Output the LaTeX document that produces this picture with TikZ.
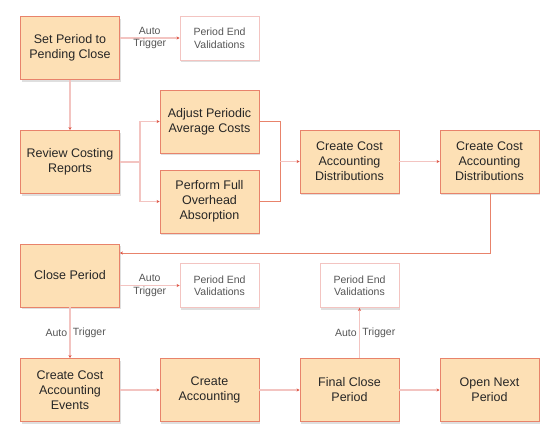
\documentclass[tikz,border=0pt]{standalone}
\usepackage{fontspec}
\setmainfont{Liberation Sans}
\usepackage{tikz}
\usetikzlibrary{positioning, arrows.meta, shadows}
\definecolor{durazno}{RGB}{253, 224, 181}
\definecolor{salmon}{RGB}{232, 131, 107}
\definecolor{rosado}{RGB}{243, 196, 193}
\definecolor{rojizo}{RGB}{222, 86, 70}
\definecolor{tinta}{RGB}{38, 38, 38}
\definecolor{gris}{RGB}{85, 85, 85}
\tikzset{
    paso/.style={draw=salmon, fill=durazno, text=tinta, align=center, line width=0.9pt, minimum width=99pt, minimum height=63pt, font=\fontsize{12.5}{15}\selectfont, drop shadow={shadow xshift=1pt, shadow yshift=-2pt, opacity=0.25, fill=gray}},
    valid/.style={draw=rosado, fill=white, text=gris, align=center, line width=0.9pt, minimum width=79pt, minimum height=44pt, font=\fontsize{10.5}{12.5}\selectfont, drop shadow={shadow xshift=1pt, shadow yshift=-2pt, opacity=0.25, fill=gray}},
    conn/.style={draw=rosado, line width=1.8pt, -{Stealth[length=3pt, width=3pt, color=rojizo]}},
    fino/.style={draw=salmon, line width=0.8pt},
    etiq/.style={text=gris, font=\fontsize{10.5}{12.5}\selectfont, align=center, inner sep=2pt},
}
\begin{document}
\begin{tikzpicture}[x=1pt, y=-1pt]
    \useasboundingbox (0,0) rectangle (560,440);

    \node [paso] (setp) at (70,48) {Set Period to\\Pending Close};
    \node [valid] (pev1) at (219.5,38) {Period End\\Validations};
    \node [paso] (review) at (70,162) {Review Costing\\Reports};
    \node [paso] (adjust) at (209.5,121.5) {Adjust Periodic\\Average Costs};
    \node [paso] (perform) at (209.5,201.5) {Perform Full\\Overhead\\Absorption};
    \node [paso] (ccad1) at (349.5,161.5) {Create Cost\\Accounting\\Distributions};
    \node [paso] (ccad2) at (489.5,161.5) {Create Cost\\Accounting\\Distributions};
    \node [paso] (close) at (70,275.5) {Close Period};
    \node [valid] (pev2) at (219.5,285.5) {Period End\\Validations};
    \node [valid] (pev3) at (359.5,285.5) {Period End\\Validations};
    \node [paso] (ccae) at (70,390) {Create Cost\\Accounting\\Events};
    \node [paso] (creacc) at (209.5,390) {Create\\Accounting};
    \node [paso] (final) at (349.5,390) {Final Close\\Period};
    \node [paso] (open) at (489.5,390) {Open Next\\Period};

    \coordinate (split) at (140,162);
    \coordinate (merge) at (280,161.5);
    \coordinate (ret) at (490,253);

    \draw[conn] (setp.east |- pev1) -- (pev1.west) node[etiq, midway] {Auto\\Trigger};
    \draw[conn] (setp) -- (review);

    \draw[draw=rosado, line width=1.8pt] (review.east) -- (split);
    \draw[conn] (split) |- (adjust.west);
    \draw[conn] (split) |- (perform.west);

    \draw[fino] (adjust.east) -| (merge);
    \draw[fino] (perform.east) -| (merge);
    \draw[conn] (merge) -- (ccad1.west);
    \draw[conn] (ccad1) -- (ccad2);

    \draw[fino, -{Stealth[length=3pt, width=3pt, color=rojizo]}] (ccad2.south -| ret) -- (ret) -- (close.east |- ret);

    \draw[conn] (close.east |- pev2) -- (pev2.west) node[etiq, midway] {Auto\\Trigger};
    \draw[conn] (close) -- (ccae) node[etiq, midway, left] {Auto} node[etiq, midway, right] {Trigger};

    \draw[conn] (ccae) -- (creacc);
    \draw[conn] (creacc) -- (final);
    \draw[conn] (final) -- (open);
    \draw[conn] (final.north -| pev3) -- (pev3.south) node[etiq, midway, left] {Auto} node[etiq, midway, right] {Trigger};
\end{tikzpicture}
\end{document}
